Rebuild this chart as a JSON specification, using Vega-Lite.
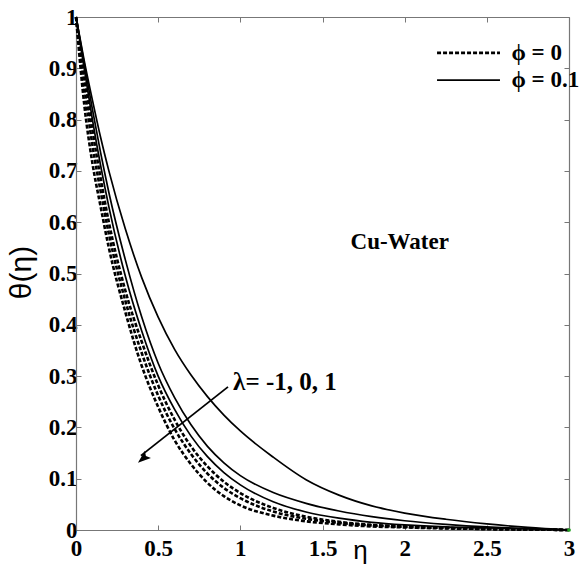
{
  "$schema": "https://vega.github.io/schema/vega-lite/v6.json",
  "width": 493,
  "height": 513,
  "autosize": "none",
  "padding": {"left": 76, "top": 17, "right": 10, "bottom": 39},
  "background": "white",
  "config": {"view": {"stroke": null}},
  "datasets": {
    "curves": [
      {"curve":"D3","phi":"0","eta":0,"theta":1},{"curve":"D3","phi":"0","eta":0.05,"theta":0.83},{"curve":"D3","phi":"0","eta":0.1,"theta":0.715},{"curve":"D3","phi":"0","eta":0.15,"theta":0.63},{"curve":"D3","phi":"0","eta":0.2,"theta":0.55},{"curve":"D3","phi":"0","eta":0.3,"theta":0.425},{"curve":"D3","phi":"0","eta":0.4,"theta":0.32},{"curve":"D3","phi":"0","eta":0.5,"theta":0.24},{"curve":"D3","phi":"0","eta":0.6,"theta":0.175},{"curve":"D3","phi":"0","eta":0.7,"theta":0.128},{"curve":"D3","phi":"0","eta":0.8,"theta":0.092},{"curve":"D3","phi":"0","eta":0.9,"theta":0.066},{"curve":"D3","phi":"0","eta":1,"theta":0.048},{"curve":"D3","phi":"0","eta":1.2,"theta":0.028},{"curve":"D3","phi":"0","eta":1.4,"theta":0.017},{"curve":"D3","phi":"0","eta":1.6,"theta":0.011},{"curve":"D3","phi":"0","eta":1.8,"theta":0.007},{"curve":"D3","phi":"0","eta":2,"theta":0.005},{"curve":"D3","phi":"0","eta":2.25,"theta":0.003},{"curve":"D3","phi":"0","eta":2.5,"theta":0.002},{"curve":"D3","phi":"0","eta":2.75,"theta":0.001},{"curve":"D3","phi":"0","eta":3,"theta":0},
      {"curve":"D2","phi":"0","eta":0,"theta":1},{"curve":"D2","phi":"0","eta":0.05,"theta":0.865},{"curve":"D2","phi":"0","eta":0.1,"theta":0.75},{"curve":"D2","phi":"0","eta":0.15,"theta":0.66},{"curve":"D2","phi":"0","eta":0.2,"theta":0.577},{"curve":"D2","phi":"0","eta":0.3,"theta":0.447},{"curve":"D2","phi":"0","eta":0.4,"theta":0.345},{"curve":"D2","phi":"0","eta":0.5,"theta":0.262},{"curve":"D2","phi":"0","eta":0.6,"theta":0.197},{"curve":"D2","phi":"0","eta":0.7,"theta":0.148},{"curve":"D2","phi":"0","eta":0.8,"theta":0.11},{"curve":"D2","phi":"0","eta":0.9,"theta":0.082},{"curve":"D2","phi":"0","eta":1,"theta":0.062},{"curve":"D2","phi":"0","eta":1.2,"theta":0.036},{"curve":"D2","phi":"0","eta":1.4,"theta":0.022},{"curve":"D2","phi":"0","eta":1.6,"theta":0.014},{"curve":"D2","phi":"0","eta":1.8,"theta":0.009},{"curve":"D2","phi":"0","eta":2,"theta":0.006},{"curve":"D2","phi":"0","eta":2.25,"theta":0.004},{"curve":"D2","phi":"0","eta":2.5,"theta":0.002},{"curve":"D2","phi":"0","eta":2.75,"theta":0.001},{"curve":"D2","phi":"0","eta":3,"theta":0},
      {"curve":"D1","phi":"0","eta":0,"theta":1},{"curve":"D1","phi":"0","eta":0.05,"theta":0.89},{"curve":"D1","phi":"0","eta":0.1,"theta":0.78},{"curve":"D1","phi":"0","eta":0.15,"theta":0.685},{"curve":"D1","phi":"0","eta":0.2,"theta":0.6},{"curve":"D1","phi":"0","eta":0.3,"theta":0.467},{"curve":"D1","phi":"0","eta":0.4,"theta":0.367},{"curve":"D1","phi":"0","eta":0.5,"theta":0.282},{"curve":"D1","phi":"0","eta":0.6,"theta":0.215},{"curve":"D1","phi":"0","eta":0.7,"theta":0.163},{"curve":"D1","phi":"0","eta":0.8,"theta":0.124},{"curve":"D1","phi":"0","eta":0.9,"theta":0.094},{"curve":"D1","phi":"0","eta":1,"theta":0.072},{"curve":"D1","phi":"0","eta":1.2,"theta":0.043},{"curve":"D1","phi":"0","eta":1.4,"theta":0.026},{"curve":"D1","phi":"0","eta":1.6,"theta":0.016},{"curve":"D1","phi":"0","eta":1.8,"theta":0.01},{"curve":"D1","phi":"0","eta":2,"theta":0.007},{"curve":"D1","phi":"0","eta":2.25,"theta":0.004},{"curve":"D1","phi":"0","eta":2.5,"theta":0.002},{"curve":"D1","phi":"0","eta":2.75,"theta":0.001},{"curve":"D1","phi":"0","eta":3,"theta":0},
      {"curve":"S3","phi":"0.1","eta":0,"theta":1},{"curve":"S3","phi":"0.1","eta":0.05,"theta":0.9},{"curve":"S3","phi":"0.1","eta":0.1,"theta":0.8},{"curve":"S3","phi":"0.1","eta":0.15,"theta":0.71},{"curve":"S3","phi":"0.1","eta":0.2,"theta":0.63},{"curve":"S3","phi":"0.1","eta":0.3,"theta":0.495},{"curve":"S3","phi":"0.1","eta":0.4,"theta":0.388},{"curve":"S3","phi":"0.1","eta":0.5,"theta":0.3},{"curve":"S3","phi":"0.1","eta":0.6,"theta":0.235},{"curve":"S3","phi":"0.1","eta":0.7,"theta":0.183},{"curve":"S3","phi":"0.1","eta":0.8,"theta":0.143},{"curve":"S3","phi":"0.1","eta":0.9,"theta":0.112},{"curve":"S3","phi":"0.1","eta":1,"theta":0.088},{"curve":"S3","phi":"0.1","eta":1.2,"theta":0.055},{"curve":"S3","phi":"0.1","eta":1.4,"theta":0.035},{"curve":"S3","phi":"0.1","eta":1.6,"theta":0.023},{"curve":"S3","phi":"0.1","eta":1.8,"theta":0.015},{"curve":"S3","phi":"0.1","eta":2,"theta":0.01},{"curve":"S3","phi":"0.1","eta":2.25,"theta":0.006},{"curve":"S3","phi":"0.1","eta":2.5,"theta":0.004},{"curve":"S3","phi":"0.1","eta":2.75,"theta":0.002},{"curve":"S3","phi":"0.1","eta":3,"theta":0},
      {"curve":"S2","phi":"0.1","eta":0,"theta":1},{"curve":"S2","phi":"0.1","eta":0.05,"theta":0.91},{"curve":"S2","phi":"0.1","eta":0.1,"theta":0.82},{"curve":"S2","phi":"0.1","eta":0.15,"theta":0.735},{"curve":"S2","phi":"0.1","eta":0.2,"theta":0.658},{"curve":"S2","phi":"0.1","eta":0.3,"theta":0.527},{"curve":"S2","phi":"0.1","eta":0.4,"theta":0.415},{"curve":"S2","phi":"0.1","eta":0.5,"theta":0.325},{"curve":"S2","phi":"0.1","eta":0.6,"theta":0.258},{"curve":"S2","phi":"0.1","eta":0.7,"theta":0.205},{"curve":"S2","phi":"0.1","eta":0.8,"theta":0.163},{"curve":"S2","phi":"0.1","eta":0.9,"theta":0.131},{"curve":"S2","phi":"0.1","eta":1,"theta":0.106},{"curve":"S2","phi":"0.1","eta":1.2,"theta":0.073},{"curve":"S2","phi":"0.1","eta":1.4,"theta":0.052},{"curve":"S2","phi":"0.1","eta":1.6,"theta":0.037},{"curve":"S2","phi":"0.1","eta":1.8,"theta":0.026},{"curve":"S2","phi":"0.1","eta":2,"theta":0.018},{"curve":"S2","phi":"0.1","eta":2.25,"theta":0.011},{"curve":"S2","phi":"0.1","eta":2.5,"theta":0.006},{"curve":"S2","phi":"0.1","eta":2.75,"theta":0.003},{"curve":"S2","phi":"0.1","eta":3,"theta":0},
      {"curve":"S1","phi":"0.1","eta":0,"theta":1},{"curve":"S1","phi":"0.1","eta":0.05,"theta":0.915},{"curve":"S1","phi":"0.1","eta":0.1,"theta":0.838},{"curve":"S1","phi":"0.1","eta":0.15,"theta":0.765},{"curve":"S1","phi":"0.1","eta":0.2,"theta":0.7},{"curve":"S1","phi":"0.1","eta":0.3,"theta":0.587},{"curve":"S1","phi":"0.1","eta":0.4,"theta":0.492},{"curve":"S1","phi":"0.1","eta":0.5,"theta":0.415},{"curve":"S1","phi":"0.1","eta":0.6,"theta":0.352},{"curve":"S1","phi":"0.1","eta":0.7,"theta":0.302},{"curve":"S1","phi":"0.1","eta":0.8,"theta":0.26},{"curve":"S1","phi":"0.1","eta":0.9,"theta":0.224},{"curve":"S1","phi":"0.1","eta":1,"theta":0.193},{"curve":"S1","phi":"0.1","eta":1.2,"theta":0.142},{"curve":"S1","phi":"0.1","eta":1.4,"theta":0.098},{"curve":"S1","phi":"0.1","eta":1.6,"theta":0.068},{"curve":"S1","phi":"0.1","eta":1.8,"theta":0.047},{"curve":"S1","phi":"0.1","eta":2,"theta":0.033},{"curve":"S1","phi":"0.1","eta":2.25,"theta":0.021},{"curve":"S1","phi":"0.1","eta":2.5,"theta":0.012},{"curve":"S1","phi":"0.1","eta":2.75,"theta":0.005},{"curve":"S1","phi":"0.1","eta":3,"theta":0}
    ]
  },
  "layer": [
    {
      "data": {"name": "curves"},
      "layer": [
        {
          "transform": [{"filter": "datum.phi === '0'"}],
          "mark": {"type": "line", "color": "black", "strokeWidth": 2.6, "strokeDash": [4, 2], "interpolate": "monotone"},
          "encoding": {
            "x": {"field": "eta", "type": "quantitative", "scale": {"domain": [0, 3], "nice": false},
              "axis": {"orient": "bottom", "values": [0, 0.5, 1, 1.5, 2, 2.5, 3], "format": "~g", "grid": false,
                "labelFont": "Liberation Serif", "labelFontWeight": "bold", "labelFontSize": 23, "labelColor": "black",
                "labelPadding": 12, "labelFlush": false, "labelOverlap": false,
                "domainColor": "#777", "tickColor": "#777", "tickSize": -5, "domainWidth": 1.2,
                "title": "η", "titleFont": "Liberation Sans", "titleFontSize": 26, "titleFontWeight": "normal", "titleColor": "black",
                "titleX": 284, "titleY": 28, "titleBaseline": "alphabetic", "titleAnchor": null}},
            "y": {"field": "theta", "type": "quantitative", "scale": {"domain": [0, 1], "nice": false},
              "axis": {"orient": "left", "values": [0, 0.1, 0.2, 0.3, 0.4, 0.5, 0.6, 0.7, 0.8, 0.9, 1], "format": "~g", "grid": false,
                "labelFont": "Liberation Serif", "labelFontWeight": "bold", "labelFontSize": 23, "labelColor": "black",
                "labelPadding": 4, "labelFlush": false, "labelOverlap": false,
                "domainColor": "#777", "tickColor": "#777", "tickSize": -5, "domainWidth": 1.2,
                "title": "θ(η)", "titleFont": "Liberation Sans", "titleFontSize": 30, "titleFontWeight": "normal", "titleColor": "black",
                "titleX": -55, "titleY": 255, "titleBaseline": "middle", "titleAngle": 270}},
            "detail": {"field": "curve"}
          }
        },
        {
          "transform": [{"filter": "datum.phi === '0.1'"}],
          "mark": {"type": "line", "color": "black", "strokeWidth": 1.7, "interpolate": "monotone"},
          "encoding": {
            "x": {"field": "eta", "type": "quantitative"},
            "y": {"field": "theta", "type": "quantitative"},
            "detail": {"field": "curve"}
          }
        },
        {
          "data": {"values": [{}]},
          "mark": {"type": "rule", "color": "black", "strokeWidth": 1.8},
          "encoding": {"x": {"datum": 0.925}, "y": {"datum": 0.279}, "x2": {"datum": 0.395}, "y2": {"datum": 0.145}}
        },
        {
          "data": {"values": [{}]},
          "mark": {"type": "point", "shape": "M0,0 L-0.55,1.5 L0,1.2 L0.55,1.5 Z", "filled": true, "color": "black", "opacity": 1, "size": 300, "angle": 230},
          "encoding": {"x": {"datum": 0.377}, "y": {"datum": 0.131}}
        },
        {
          "data": {"values": [{}]},
          "mark": {"type": "rule", "color": "black", "strokeWidth": 2.6, "strokeDash": [4, 2]},
          "encoding": {"x": {"datum": 2.197}, "x2": {"datum": 2.58}, "y": {"datum": 0.93}}
        },
        {
          "data": {"values": [{}]},
          "mark": {"type": "rule", "color": "black", "strokeWidth": 1.7},
          "encoding": {"x": {"datum": 2.197}, "x2": {"datum": 2.58}, "y": {"datum": 0.877}}
        },
        {
          "data": {"values": [{}]},
          "mark": {"type": "text", "text": "ϕ = 0", "align": "left", "baseline": "middle", "font": "Liberation Serif", "fontWeight": "bold", "fontSize": 23, "color": "black"},
          "encoding": {"x": {"datum": 2.65}, "y": {"datum": 0.93}}
        },
        {
          "data": {"values": [{}]},
          "mark": {"type": "text", "text": "ϕ = 0.1", "align": "left", "baseline": "middle", "font": "Liberation Serif", "fontWeight": "bold", "fontSize": 23, "color": "black"},
          "encoding": {"x": {"datum": 2.65}, "y": {"datum": 0.877}}
        },
        {
          "data": {"values": [{}]},
          "mark": {"type": "text", "text": "Cu-Water", "align": "center", "baseline": "middle", "font": "Liberation Serif", "fontWeight": "bold", "fontSize": 23, "color": "black"},
          "encoding": {"x": {"datum": 1.97}, "y": {"datum": 0.561}}
        },
        {
          "data": {"values": [{}]},
          "mark": {"type": "text", "text": "λ= -1, 0, 1", "align": "left", "baseline": "middle", "font": "Liberation Serif", "fontWeight": "bold", "fontSize": 25, "color": "black"},
          "encoding": {"x": {"datum": 0.956}, "y": {"datum": 0.288}}
        },
        {
          "data": {"values": [{}]},
          "mark": {"type": "point", "filled": true, "color": "#22a022", "size": 14, "opacity": 1},
          "encoding": {"x": {"datum": 3}, "y": {"datum": 0}}
        }
      ]
    },
    {
      "data": {"name": "curves"},
      "mark": {"type": "point", "opacity": 0},
      "encoding": {
        "x": {"field": "eta", "type": "quantitative", "scale": {"domain": [0, 3], "nice": false},
          "axis": {"orient": "top", "values": [0, 0.5, 1, 1.5, 2, 2.5, 3], "labels": false, "title": null, "grid": false,
            "domainColor": "#777", "tickColor": "#777", "tickSize": -5, "domainWidth": 1.2}},
        "y": {"field": "theta", "type": "quantitative", "scale": {"domain": [0, 1], "nice": false},
          "axis": {"orient": "right", "values": [0, 0.1, 0.2, 0.3, 0.4, 0.5, 0.6, 0.7, 0.8, 0.9, 1], "labels": false, "title": null, "grid": false,
            "domainColor": "#777", "tickColor": "#777", "tickSize": -5, "domainWidth": 1.2}}
      }
    }
  ],
  "resolve": {"axis": {"x": "independent", "y": "independent"}}
}
